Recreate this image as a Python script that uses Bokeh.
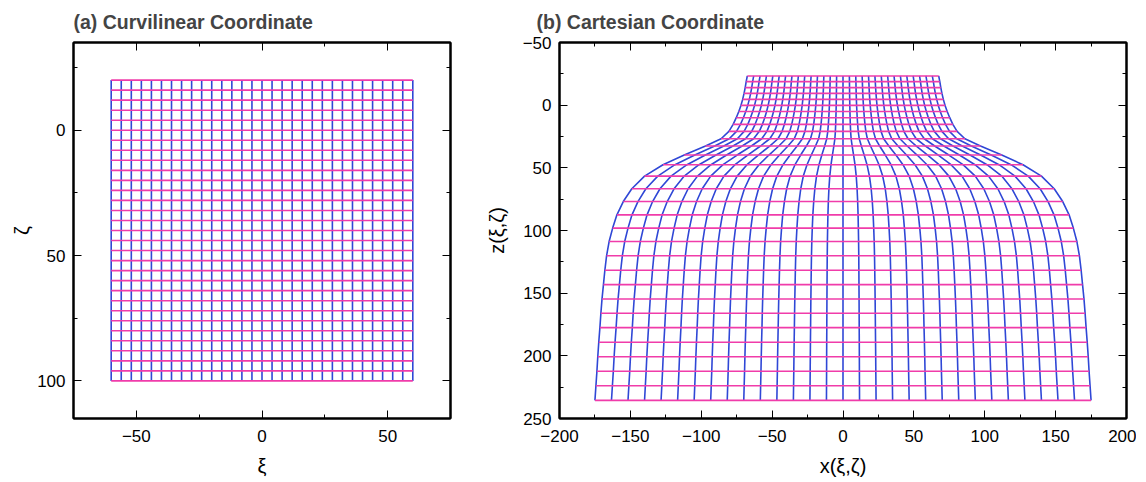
from bokeh.plotting import figure
from bokeh.layouts import row
from bokeh.models import (Range1d, LinearAxis, SingleIntervalTicker,
                          CustomJSTickFormatter, CustomLabelingPolicy)
from bokeh.embed import file_html
from bokeh.resources import INLINE

# ---- data -------------------------------------------------------------
# curvilinear grid coordinates
xi = [-60, -56, -52, -48, -44, -40, -36, -32, -28, -24, -20, -16, -12, -8, -4, 0,
      4, 8, 12, 16, 20, 24, 28, 32, 36, 40, 44, 48, 52, 56, 60]
zeta = [-20, -16, -12, -8, -4, 0, 4, 8, 12, 16, 20, 24, 28, 32, 36, 40,
        44, 48, 52, 56, 60, 64, 68, 72, 76, 80, 84, 88, 92, 96, 100]
# cartesian depth of each zeta row
z_rows = [-23.3, -18.8, -14.0, -9.4, -4.6, 0.2, 5.0, 10.0, 15.3, 20.9, 26.8,
          32.6, 39.8, 47.5, 56.6, 66.7, 76.9, 87.5, 98.1, 108.8, 120.2, 131.7,
          143.2, 154.6, 166.0, 177.5, 189.2, 200.7, 212.3, 223.9, 235.5]
# cartesian half width of each row at xi = +-60
half_width = [67.5, 68.3, 69.0, 69.8, 70.8, 72.0, 73.5, 75.3, 77.5, 80.5, 86.0,
              97.0, 112.0, 127.0, 140.0, 149.0, 155.0, 159.5, 162.5, 165.0, 166.8,
              168.0, 169.0, 170.0, 170.8, 171.5, 172.3, 173.0, 173.6, 174.3, 175.0]
xi_edge = 60

PINK = "#f03caa"
BLUE = "#2f47d6"
FONT = "Liberation Sans"

fmt_code = "return (tick < 0 ? '\\u2212' : '') + Math.abs(tick).toString();"
hide_code = "for (const i of [...indices]) { indices.unset(i) }\nreturn indices"


def style(p, xlabel, ylabel, ylabel_standoff):
    p.grid.visible = False
    p.outline_line_color = "black"
    p.outline_line_width = 2
    p.background_fill_color = "white"
    p.border_fill_color = "white"
    for ax in p.xaxis + p.yaxis:
        ax.ticker = SingleIntervalTicker(interval=50, num_minor_ticks=2)
        ax.formatter = CustomJSTickFormatter(code=fmt_code)
        ax.axis_line_width = 2
        ax.axis_line_color = "black"
        ax.major_tick_in = 8
        ax.major_tick_out = 0
        ax.minor_tick_in = 4
        ax.minor_tick_out = 0
        ax.major_tick_line_color = "black"
        ax.minor_tick_line_color = "black"
        ax.major_tick_line_width = 1
        ax.minor_tick_line_width = 1
        ax.major_label_text_font = FONT
        ax.major_label_text_font_size = "17px"
        ax.major_label_text_color = "black"
        ax.axis_label_text_font = FONT
        ax.axis_label_text_font_size = "20px"
        ax.axis_label_text_font_style = "normal"
        ax.axis_label_text_color = "black"
    p.xaxis.axis_label = xlabel
    p.yaxis.axis_label = ylabel
    p.xaxis.major_label_standoff = 11
    p.yaxis.major_label_standoff = 8
    p.xaxis.axis_label_standoff = 10
    p.yaxis.axis_label_standoff = ylabel_standoff
    # mirror axes (ticks only) on top and right
    for loc in ("above", "right"):
        ax = LinearAxis(ticker=SingleIntervalTicker(interval=50, num_minor_ticks=2),
                        major_label_policy=CustomLabelingPolicy(code=hide_code),
                        major_label_text_font_size="1px",
                        major_label_standoff=0,
                        axis_line_width=2, major_tick_in=8, major_tick_out=0,
                        minor_tick_in=4, minor_tick_out=0)
        p.add_layout(ax, loc)
    p.title.text_font = FONT
    p.title.text_font_size = "19.5px"
    p.title.text_font_style = "bold"
    p.title.align = "left"
    p.title.standoff = 12


# ---- panel (a) --------------------------------------------------------
p1 = figure(frame_width=377, frame_height=376, output_backend="svg",
            toolbar_location=None,
            x_range=Range1d(-75, 75), y_range=Range1d(115, -35),
            min_border_left=73, min_border_right=15, min_border_top=42,
            min_border_bottom=62, title="(a) Curvilinear Coordinate")

v_xs = [[x, x] for x in xi]
v_ys = [[zeta[0], zeta[-1]] for _ in xi]
h_xs = [[xi[0], xi[-1]] for _ in zeta]
h_ys = [[zz, zz] for zz in zeta]
p1.multi_line(v_xs, v_ys, line_color=BLUE, line_width=1.6)
p1.multi_line(h_xs, h_ys, line_color=PINK, line_width=1.6)
style(p1, "ξ", "ζ", 1)

# ---- panel (b) --------------------------------------------------------
p2 = figure(frame_width=567, frame_height=376, output_backend="svg",
            toolbar_location=None,
            x_range=Range1d(-200, 200), y_range=Range1d(250, -50),
            min_border_left=94, min_border_right=10, min_border_top=42,
            min_border_bottom=62, title="(b) Cartesian Coordinate")

cv_xs = [[x / xi_edge * w for w in half_width] for x in xi]
cv_ys = [list(z_rows) for _ in xi]
ch_xs = [[-w, w] for w in half_width]
ch_ys = [[zz, zz] for zz in z_rows]
p2.multi_line(cv_xs, cv_ys, line_color=BLUE, line_width=1.6)
p2.multi_line(ch_xs, ch_ys, line_color=PINK, line_width=1.6)
style(p2, "x(ξ,ζ)", "z(ξ,ζ)", 12)
p2.title.offset = -23

layout = row(p1, p2)
open("out.html", "w").write(file_html(layout, INLINE))
